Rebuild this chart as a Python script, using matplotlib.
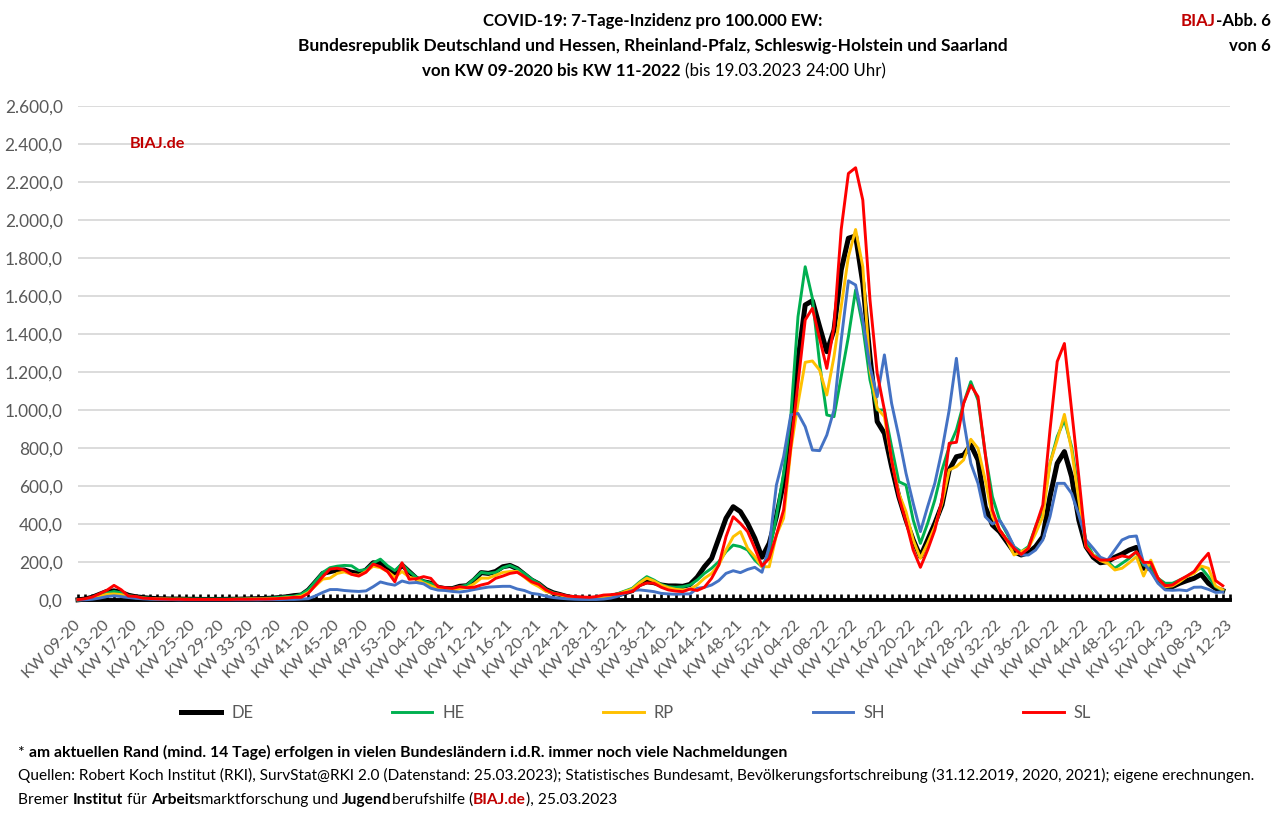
import matplotlib
matplotlib.use("Agg")
import matplotlib.pyplot as plt
from matplotlib.transforms import ScaledTranslation

plt.rcParams['font.family'] = ['Lato', 'DejaVu Sans']

W = 1286
H = 816

# KW labels, every 4th week
tick_labels = ["09-20", "13-20", "17-20", "21-20", "25-20", "29-20", "33-20", "37-20", "41-20", "45-20",
               "49-20", "53-20", "04-21", "08-21", "12-21", "16-21", "20-21", "24-21", "28-21", "32-21",
               "36-21", "40-21", "44-21", "48-21", "52-21", "04-22", "08-22", "12-22", "16-22", "20-22",
               "24-22", "28-22", "32-22", "36-22", "40-22", "44-22", "48-22", "52-22", "04-23", "08-23",
               "12-23"]
y_ticks = [0, 200, 400, 600, 800, 1000, 1200, 1400, 1600, 1800, 2000, 2200, 2400, 2600]

DE = [1, 5, 15, 30, 45, 48, 40, 25, 17, 13,
      9, 7, 6, 5, 5, 4, 4, 3, 3, 3,
      3, 4, 4, 5, 6, 7, 8, 10, 13, 17,
      23, 26, 53, 96, 140, 149, 158, 158, 146, 140,
      158, 196, 193, 161, 140, 184, 149, 114, 96, 88,
      67, 60, 60, 72, 75, 105, 144, 140, 150, 175,
      182, 165, 135, 105, 85, 55, 38, 28, 17, 11,
      8, 6, 7, 12, 19, 27, 38, 50, 82, 96,
      91, 79, 74, 74, 72, 82, 120, 175, 219, 325,
      430, 491, 465, 403, 325, 225, 298, 439, 620, 877,
      1263, 1553, 1575, 1439, 1307, 1421, 1737, 1904, 1916, 1667,
      1280, 939, 877, 702, 544, 421, 316, 228, 316, 403,
      500, 684, 754, 763, 816, 737, 491, 395, 360, 307,
      254, 237, 249, 281, 333, 544, 719, 781, 649, 421,
      281, 225, 196, 202, 225, 242, 263, 277, 167, 167,
      105, 70, 70, 88, 102, 114, 135, 88, 61, 49]
HE = [1, 4, 12, 24, 36, 45, 38, 24, 17, 13,
      9, 7, 6, 6, 5, 5, 5, 5, 5, 5,
      5, 5, 6, 6, 7, 8, 9, 11, 14, 18,
      20, 30, 55, 100, 145, 170, 178, 182, 180, 155,
      160, 195, 215, 180, 155, 190, 150, 119, 100, 88,
      70, 60, 62, 70, 78, 110, 145, 140, 145, 170,
      182, 165, 140, 110, 88, 55, 38, 28, 18, 12,
      9, 7, 8, 14, 24, 34, 48, 62, 95, 123,
      105, 82, 70, 67, 70, 79, 105, 140, 167, 202,
      254, 289, 281, 263, 210, 175, 246, 439, 667, 965,
      1491, 1754, 1588, 1246, 974, 965, 1175, 1386, 1632, 1439,
      1158, 1000, 1000, 807, 623, 605, 421, 298, 403, 526,
      684, 807, 895, 1035, 1149, 1052, 772, 544, 421, 351,
      281, 254, 281, 386, 474, 719, 860, 947, 807, 561,
      307, 237, 219, 202, 167, 193, 219, 254, 184, 175,
      114, 88, 88, 105, 123, 149, 170, 123, 70, 49]
RP = [1, 3, 9, 18, 30, 32, 28, 18, 12, 9,
      7, 5, 5, 4, 4, 4, 3, 3, 3, 3,
      3, 3, 4, 4, 5, 5, 6, 7, 9, 12,
      15, 20, 40, 75, 110, 115, 140, 148, 135, 130,
      150, 178, 170, 150, 120, 150, 120, 110, 90, 75,
      60, 55, 50, 60, 65, 85, 115, 115, 130, 145,
      150, 150, 120, 90, 70, 45, 35, 26, 17, 11,
      8, 6, 7, 13, 21, 30, 45, 58, 90, 115,
      100, 78, 65, 56, 53, 56, 79, 114, 140, 184,
      263, 333, 360, 272, 228, 175, 175, 342, 430, 789,
      1035, 1251, 1258, 1210, 1079, 1281, 1544, 1807, 1950, 1754,
      1210, 1009, 965, 737, 561, 465, 316, 219, 298, 386,
      509, 684, 702, 737, 846, 798, 632, 439, 368, 316,
      237, 254, 272, 351, 439, 719, 842, 977, 789, 526,
      281, 237, 207, 193, 158, 167, 196, 228, 126, 210,
      114, 70, 74, 96, 123, 140, 179, 167, 74, 53]
SH = [0, 1, 4, 10, 18, 22, 18, 13, 9, 6,
      4, 3, 2, 2, 1, 1, 1, 1, 1, 1,
      1, 1, 1, 1, 1, 1, 2, 2, 2, 3,
      3, 5, 7, 22, 40, 55, 55, 50, 47, 45,
      48, 70, 95, 85, 78, 100, 90, 92, 85, 62,
      52, 50, 45, 42, 47, 55, 62, 68, 70, 72,
      72, 58, 50, 35, 30, 20, 13, 9, 6, 4,
      3, 3, 3, 5, 10, 20, 35, 50, 53, 49,
      44, 35, 32, 30, 32, 32, 61, 67, 79, 102,
      140, 154, 144, 161, 172, 146, 281, 605, 754, 974,
      982, 912, 789, 786, 868, 1000, 1368, 1680, 1658, 1474,
      1228, 1070, 1290, 1035, 860, 667, 509, 360, 491, 614,
      789, 1000, 1272, 947, 719, 614, 439, 400, 421, 360,
      281, 237, 237, 263, 316, 439, 614, 614, 561, 447,
      316, 272, 225, 210, 263, 316, 333, 337, 193, 149,
      88, 53, 51, 53, 49, 67, 68, 56, 40, 42]
SL = [2, 7, 16, 33, 51, 77, 54, 21, 19, 10,
      8, 6, 5, 4, 4, 3, 3, 3, 3, 3,
      3, 3, 4, 4, 4, 5, 5, 6, 8, 10,
      14, 14, 35, 79, 123, 163, 167, 158, 135, 126,
      146, 189, 175, 149, 96, 196, 109, 112, 123, 114,
      70, 65, 61, 70, 65, 67, 79, 88, 114, 126,
      140, 146, 123, 96, 82, 53, 35, 30, 21, 18,
      16, 14, 18, 26, 28, 32, 38, 45, 75, 90,
      88, 67, 53, 47, 44, 58, 50, 67, 114, 184,
      333, 438, 403, 360, 272, 179, 219, 342, 474, 807,
      1140, 1474, 1535, 1377, 1219, 1439, 1950, 2245, 2275, 2105,
      1579, 1193, 1000, 737, 544, 412, 263, 172, 263, 368,
      526, 825, 830, 1035, 1130, 1070, 772, 474, 368, 316,
      272, 240, 272, 386, 500, 895, 1255, 1350, 1000, 649,
      281, 232, 210, 210, 219, 232, 225, 254, 198, 198,
      114, 75, 79, 105, 126, 149, 202, 246, 102, 75]

GREY = '#595959'
DARK_RED = '#C00000'

fig = plt.figure(figsize=(W / 100, H / 100), dpi=100)
ax = fig.add_axes([78 / W, 1 - 600 / H, (1230 - 78) / W, (600 - 106) / H])

x = list(range(len(DE)))
ax.plot(x, DE, color='black', lw=3.6, label='DE', zorder=3, clip_on=False)
ax.plot(x, HE, color='#00B050', lw=2.1, label='HE', zorder=3.1, clip_on=False)
ax.plot(x, RP, color='#FFC000', lw=2.1, label='RP', zorder=3.2, clip_on=False)
ax.plot(x, SH, color='#4472C4', lw=2.1, label='SH', zorder=3.3, clip_on=False)
ax.plot(x, SL, color='#FF0000', lw=2.1, label='SL', zorder=3.4, clip_on=False)

ax.set_xlim(0, 160)
ax.set_ylim(0, 2600)
ax.set_axisbelow(True)
ax.grid(axis='y', color='#D9D9D9', lw=1.3)

for side in ['top', 'left', 'right']:
    ax.spines[side].set_visible(False)
ax.spines['bottom'].set_linewidth(2.8)

ax.set_yticks(y_ticks)
ax.set_yticklabels([f"{v:,.1f}".replace(",", "X").replace(".", ",").replace("X", ".") for v in y_ticks],
                   color=GREY, fontsize=12.4)
ax.tick_params(axis='y', length=0, pad=11)

ax.set_xticks(range(0, 161, 4))
ax.set_xticklabels(["KW " + s for s in tick_labels], rotation=45, ha='right', rotation_mode='anchor',
                   color=GREY, fontsize=11.6)
ax.set_xticks(range(0, 161), minor=True)
ax.tick_params(axis='x', which='both', direction='in', length=4, width=1.9, color='black', pad=13)
shift = ScaledTranslation(-5 / 100, 0, fig.dpi_scale_trans)
for lab in ax.get_xticklabels():
    lab.set_transform(lab.get_transform() + shift)

leg = fig.legend(loc='center', bbox_to_anchor=(636 / W, 1 - 713 / H), ncol=5, frameon=False,
                 fontsize=11.9, labelcolor=GREY, handlelength=2.45, handletextpad=0.6, columnspacing=8.4)

renderer = fig.canvas.get_renderer()


def text_width(s, **kw):
    # x on both sides so spaces at the ends count
    a = fig.text(0, 0, "x" + s + "x", **kw)
    b = fig.text(0, 0, "xx", **kw)
    w = a.get_window_extent(renderer).width - b.get_window_extent(renderer).width
    a.remove()
    b.remove()
    return w


def runs(x_px, y_px, parts, size, align='left'):
    # parts: (text, bold, colour), drawn one after the other on a baseline
    widths = [text_width(p[0], fontsize=size, fontweight='bold' if p[1] else 'normal') for p in parts]
    if align == 'center':
        x_px -= sum(widths) / 2
    elif align == 'right':
        x_px -= sum(widths)
    for p, w in zip(parts, widths):
        fig.text(x_px / W, 1 - y_px / H, p[0], fontsize=size, color=p[2],
                 fontweight='bold' if p[1] else 'normal', va='baseline', ha='left')
        x_px += w


k = 'black'
runs(653, 26, [("COVID-19: 7-Tage-Inzidenz pro 100.000 EW:", True, k)], 12.1, 'center')
runs(653, 51, [("Bundesrepublik Deutschland und Hessen, Rheinland-Pfalz, Schleswig-Holstein und Saarland", True, k)],
     12.5, 'center')
runs(654, 76, [("von KW 09-2020 bis KW 11-2022 ", True, k), ("(bis 19.03.2023 24:00 Uhr)", False, k)], 12.2, 'center')
runs(1271, 26, [("BIAJ", True, DARK_RED), ("-Abb. 6", True, k)], 12.1, 'right')
runs(1271, 51, [("von 6", True, k)], 12.1, 'right')
runs(130, 148, [("BIAJ.de", True, DARK_RED)], 11.7)

runs(18, 757, [("* ", False, k), ("am aktuellen Rand (mind. 14 Tage) erfolgen in vielen Bundesländern i.d.R. immer noch viele Nachmeldungen", True, k)],
     11.3)
runs(18, 780, [("Quellen: Robert Koch Institut (RKI), SurvStat@RKI 2.0 (Datenstand: 25.03.2023); Statistisches Bundesamt, Bevölkerungsfortschreibung (31.12.2019, 2020, 2021); eigene erechnungen.", False, k)],
     11.07)
runs(18, 804, [("Bremer ", False, k), ("Institut", True, k), (" für ", False, k), ("Arbeit", True, k),
               ("smarktforschung und ", False, k), ("Jugend", True, k), ("berufshilfe (", False, k),
               ("BIAJ.de", True, DARK_RED), ("), 25.03.2023", False, k)], 11.15)

fig.savefig('out.png', dpi=100)
